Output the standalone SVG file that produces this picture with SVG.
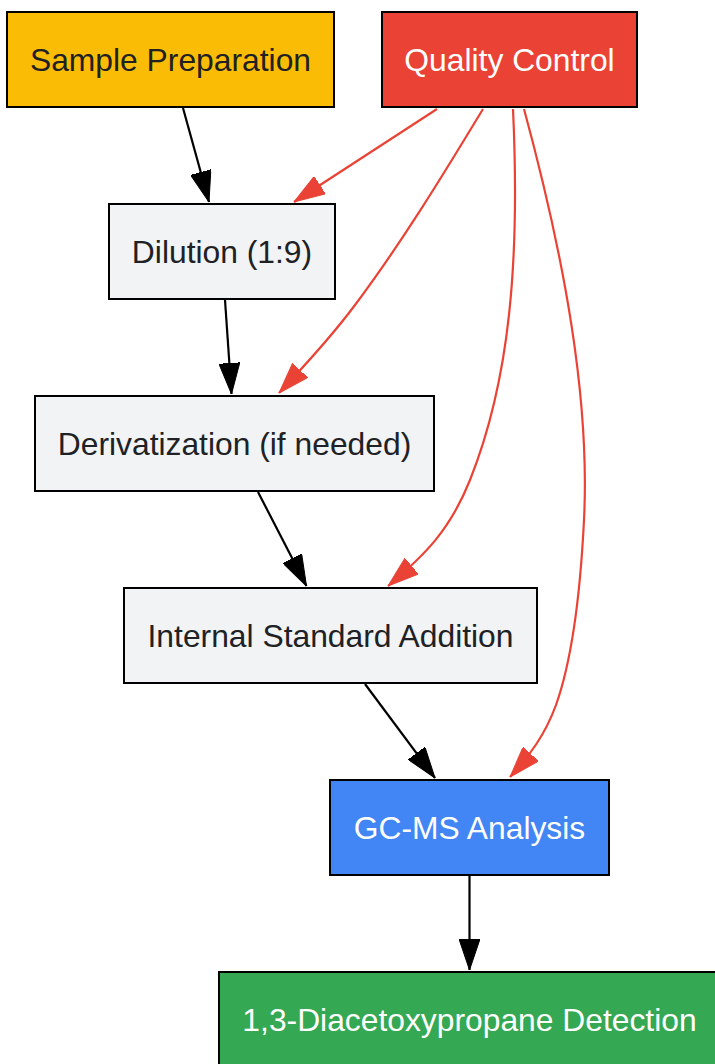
<svg xmlns="http://www.w3.org/2000/svg" width="715" height="1064" viewBox="0 0 715 1064">
<style>
.box{stroke:#000;stroke-width:2}
.lbl{font-family:"Liberation Sans",Arial,sans-serif;font-size:31.8px;text-anchor:middle}
.dark{fill:#202124}
.light{fill:#ffffff}
.e{fill:none;stroke-width:2.2}
.blk{stroke:#000}
.red{stroke:#EA4335}
</style>
<defs>
<marker id="ab" viewBox="0 0 31 21" refX="31" refY="10.5" markerWidth="31" markerHeight="21" markerUnits="userSpaceOnUse" orient="auto"><path d="M0,0 L31,10.5 L0,21 z" fill="#000" stroke="#000" stroke-width="1"/></marker>
<marker id="ar" viewBox="0 0 31 21" refX="31" refY="10.5" markerWidth="31" markerHeight="21" markerUnits="userSpaceOnUse" orient="auto"><path d="M0,0 L31,10.5 L0,21 z" fill="#EA4335" stroke="#EA4335" stroke-width="1"/></marker>
</defs>
<rect width="715" height="1064" fill="#fff"/>
<g id="connectors">
<path class="e blk" marker-end="url(#ab)" d="M183,108 L209,202"/>
<path class="e red" marker-end="url(#ar)" d="M437,109 L294,202"/>
<path class="e blk" marker-end="url(#ab)" d="M225,300 L231.5,394"/>
<path class="e red" marker-end="url(#ar)" d="M483,109 C440,180 400,245 355,305 C335,332 310,360 279,393"/>
<path class="e blk" marker-end="url(#ab)" d="M258,492 L306.5,586"/>
<path class="e red" marker-end="url(#ar)" d="M513,109 C520,260 510,380 470,480 C450,530 425,555 388,586"/>
<path class="e blk" marker-end="url(#ab)" d="M365,684 L435,778"/>
<path class="e red" marker-end="url(#ar)" d="M524,109 C565,260 590,400 584,520 C580,600 572,660 556,705 C545,735 530,755 510,777"/>
<path class="e blk" marker-end="url(#ab)" d="M469.5,876 L469.5,970"/>
</g>
<g id="sample-preparation"><rect class="box" x="7" y="12" width="327" height="95" fill="#FBBC05"/><text class="lbl dark" x="170.5" y="71">Sample Preparation</text></g>
<g id="quality-control"><rect class="box" x="382" y="12" width="255" height="95" fill="#EA4335"/><text class="lbl light" x="509.5" y="71">Quality Control</text></g>
<g id="dilution"><rect class="box" x="109" y="204" width="226" height="95" fill="#F1F3F4"/><text class="lbl dark" x="222" y="263">Dilution (1:9)</text></g>
<g id="derivatization"><rect class="box" x="35" y="396" width="399" height="95" fill="#F1F3F4"/><text class="lbl dark" x="234.5" y="455">Derivatization (if needed)</text></g>
<g id="internal-standard"><rect class="box" x="124" y="588" width="413" height="95" fill="#F1F3F4"/><text class="lbl dark" x="330.5" y="647">Internal Standard Addition</text></g>
<g id="gc-ms"><rect class="box" x="330" y="780" width="279" height="95" fill="#4285F4"/><text class="lbl light" x="469.5" y="839">GC-MS Analysis</text></g>
<g id="detection"><rect class="box" x="219" y="972" width="501" height="95" fill="#34A853"/><text class="lbl light" x="469.5" y="1031">1,3-Diacetoxypropane Detection</text></g>
</svg>
